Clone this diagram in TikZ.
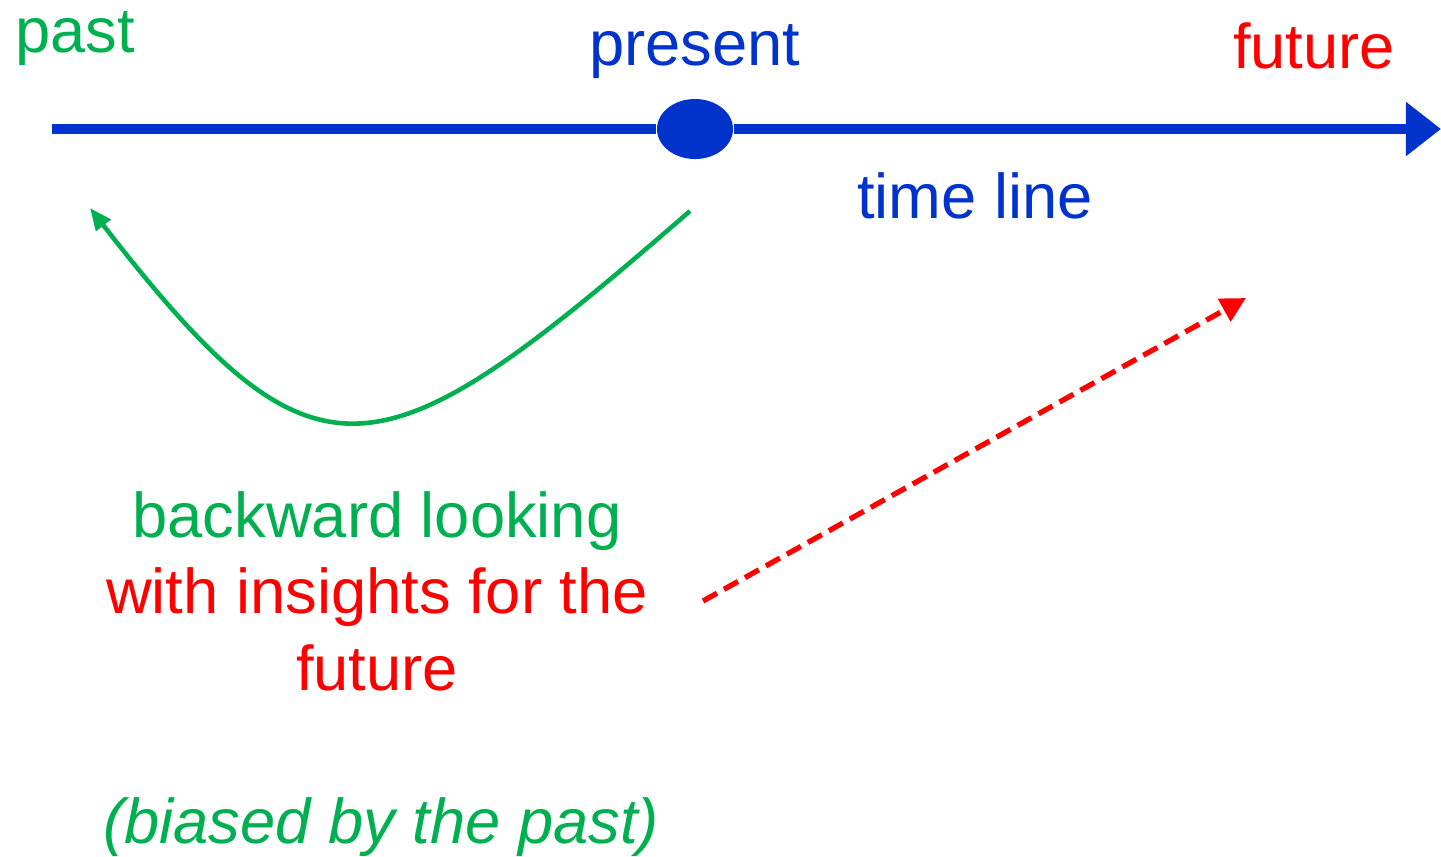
\documentclass[tikz,border=0pt]{standalone}
\usepackage{fontspec}
\setmainfont{Liberation Sans}
\usetikzlibrary{arrows.meta,positioning,shapes.geometric}
\definecolor{pastgreen}{RGB}{0,176,80}
\definecolor{lineblue}{RGB}{0,51,204}
\definecolor{futred}{RGB}{255,0,0}

\begin{document}
\begin{tikzpicture}[x=0.01cm,y=-0.01cm,
lbl/.style={anchor=base,inner sep=0pt,font=\fontsize{18}{22}\selectfont},
arr/.style={-{Triangle[length=2.2mm,width=1.8mm]},line width=1.3pt}]
\useasboundingbox (0,0) rectangle (1441,856);
% time line with the present
\coordinate (start) at (52,129);
\coordinate (end) at (1441,129);
\node[ellipse,fill=lineblue,minimum width=0.76cm,minimum height=0.6cm,inner sep=0pt] (now) at (695,129) {};
\draw[lineblue,line width=3.1pt,-{Triangle[length=3.5mm,width=5.2mm]}] (start)--(now)--(end);
\node[lbl,text=pastgreen] (past) at (75,52) {past};
\node[lbl,text=lineblue] (present) at (695,65) {present};
\node[lbl,text=futred] (future) at (1314,68) {future};
\node[lbl,text=lineblue] (tl) at (975,218) {time line};
% looking back, then forward
\coordinate (back0) at (690,211);
\coordinate (back1) at (90,208);
\draw[arr,pastgreen] (back0) .. controls (378,482) and (318,502) .. (back1);
\coordinate (fwd0) at (703,601);
\coordinate (fwd1) at (1246,298);
\draw[arr,futred,line width=1.5pt,dash pattern=on 1.6mm off 0.8mm,-{Triangle[length=2.5mm,width=2.5mm]}] (fwd0)--(fwd1);
\node[lbl,text=pastgreen] (look) at (377,537) {backward looking};
\node[lbl,text=futred] (ins) at (377,613) {with insights for the};
\node[lbl,text=futred] (ins2) at (377,690) {future};
\node[lbl,text=pastgreen] (bias) at (381,843) {\itshape (biased by the past)};
\end{tikzpicture}
\end{document}
